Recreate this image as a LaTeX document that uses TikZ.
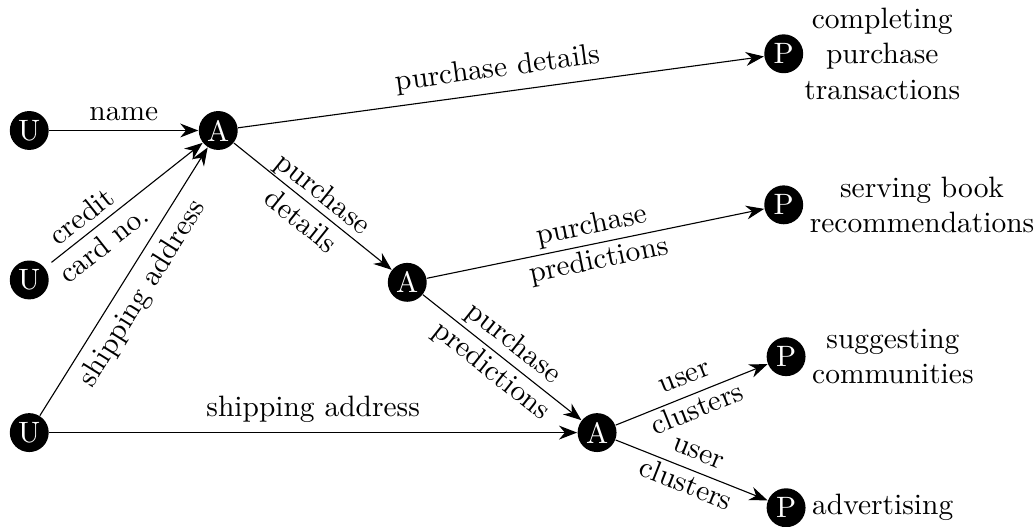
\documentclass[tikz,border=0pt]{standalone}
\usetikzlibrary{arrows.meta}
\begin{document}
\begin{tikzpicture}[>={Stealth[length=6.5pt,width=5pt]},
		font=\fontsize{10.6pt}{12.8pt}\selectfont,
		ent/.style={circle, fill=black, text=white, inner sep=0pt, minimum size=14pt},
		flow/.style={sloped, align=center}]
		\useasboundingbox (-0.37,-1.19) rectangle (12.73,5.47);
		% users
		\node[ent] (u1) at (0,3.82) {U} ;
		\node[ent] (u2) at (0,1.93) {U} ;
		\node[ent] (u3) at (0,0) {U} ;
		% analysis steps
		\node[ent] (a1) at (2.39,3.82) {A} ;
		\node[ent] (a2) at (4.78,1.90) {A} ;
		\node[ent] (a3) at (7.18,0) {A} ;
		% purposes
		\node[ent] (p1) at (9.54,4.79) {P} ;
		\node[ent] (p2) at (9.54,2.88) {P} ;
		\node[ent] (p3) at (9.57,0.96) {P} ;
		\node[ent] (p4) at (9.57,-0.95) {P} ;
		\node[anchor=west, align=center, inner sep=0pt] (t1) at (p1.east) {completing\\purchase\\transactions} ;
		\node[anchor=west, align=center, inner sep=2pt] (t2) at (p2.east) {serving book\\recommendations} ;
		\node[anchor=west, align=center, inner sep=2pt] (t3) at (p3.east) {suggesting\\communities} ;
		\node[anchor=west, align=center, inner sep=2pt] (t4) at (p4.east) {advertising} ;
		% data flows
		\draw[->] (u1) edge node[above] {name} (a1);
		\draw[->, shorten <=3pt] (u2) edge node[flow, pos=0.3] {credit\\card no.} (a1);
		\draw[->] (u3) edge node[flow, below] {shipping address} (a1);
		\draw[->] (u3) edge node[above] {shipping address} (a3);
		\draw[->] (a1) edge node[flow, above] {purchase details} (p1);
		\draw[->] (a1) edge node[flow] {purchase\\details} (a2);
		\draw[->] (a2) edge node[flow] {purchase\\predictions} (p2);
		\draw[->] (a2) edge node[flow] {purchase\\predictions} (a3);
		\draw[->] (a3) edge node[flow] {user\\clusters} (p3);
		\draw[->] (a3) edge node[flow] {user\\clusters} (p4);
	\end{tikzpicture}
\end{document}
